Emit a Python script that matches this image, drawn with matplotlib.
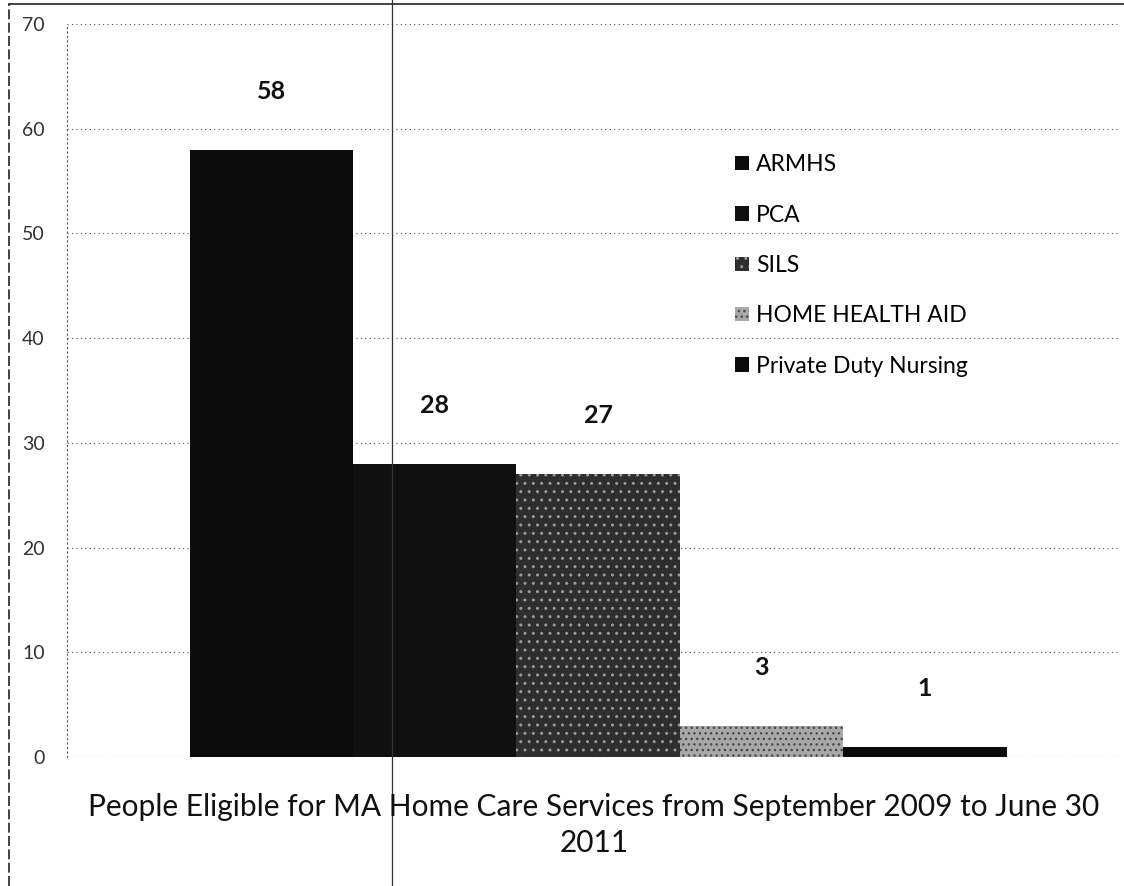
import matplotlib
matplotlib.use("Agg")
from matplotlib import pyplot as plt
from matplotlib.lines import Line2D
import numpy as np

plt.rcParams["font.family"] = ["Lato", "DejaVu Sans"]

services = ["ARMHS", "PCA", "SILS", "HOME HEALTH AID", "Private Duty Nursing"]
counts = [58, 28, 27, 3, 1]
colors = ["#0b0b0b", "#101010", "#2e2e2e", "#a8a8a8", "#0b0b0b"]
hatches = [None, None, "..", "...", None]
hatch_colors = ["#0b0b0b", "#101010", "#9a9a9a", "#4a4a4a", "#0b0b0b"]
yticks = [0, 10, 20, 30, 40, 50, 60, 70]
title = "People Eligible for MA Home Care Services from September 2009 to June 30\n2011"

fig = plt.figure(figsize=(11.24, 8.86), dpi=100)
ax = fig.add_axes([0.0596, 0.1456, 0.9368, 0.8273])

width = 0.16
offsets = (np.arange(len(services)) - (len(services) - 1) / 2) * width
for i, (name, val) in enumerate(zip(services, counts)):
    plt.rcParams["hatch.color"] = hatch_colors[i]
    ax.bar(offsets[i], val, width=width, color=colors[i], hatch=hatches[i],
           linewidth=0, label=name)
    ax.annotate(str(val), (offsets[i], val), xytext=(0, 42), textcoords="offset points",
                ha="center", va="center", fontsize=18, fontweight="bold", color="#111111")

ax.set_xlim(-0.52, 0.511)
ax.set_ylim(0, 70)
ax.set_yticks(yticks)
ax.set_xticks([])
ax.tick_params(axis="y", length=0, labelsize=14, colors="#333333", pad=16)
ax.grid(axis="y", linestyle=(0, (1, 3)), color="#555555", linewidth=0.8)
ax.set_axisbelow(True)
for side in ["top", "right", "bottom"]:
    ax.spines[side].set_visible(False)
ax.spines["left"].set_linestyle((0, (1, 3)))
ax.spines["left"].set_color("#555555")
ax.spines["left"].set_linewidth(0.8)
ax.axhline(0, color="#666666", linestyle=(0, (1, 4)), linewidth=0.8, zorder=0)

leg = ax.legend(loc="upper left", bbox_to_anchor=(0.624, 0.838), frameon=False,
                fontsize=16.5, handlelength=0.6, handleheight=0.6, handletextpad=0.3,
                labelspacing=1.28, borderpad=0)

fig.text(0.5285, 0.069, title, ha="center", va="center", fontsize=21.5,
         color="#111111", linespacing=1.32)

# chart-area frame and the scanned vertical line
fig.add_artist(Line2D([0.008, 0.008], [0, 0.995], transform=fig.transFigure,
                      color="#222222", linewidth=1.2, linestyle=(0, (6, 2))))
fig.add_artist(Line2D([0.008, 1.0], [0.995, 0.995], transform=fig.transFigure,
                      color="#222222", linewidth=1.2))
fig.add_artist(Line2D([0.3488, 0.3488], [0, 1.0], transform=fig.transFigure,
                      color="#333333", linewidth=0.9))

fig.savefig("out.png", dpi=100, facecolor="white")
